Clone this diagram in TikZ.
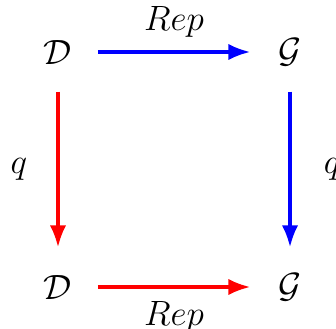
\documentclass[tikz,border=0pt]{standalone}
\usepackage{amsmath,amssymb}
\usepackage{xcolor}
\usepackage{tikz}
\usetikzlibrary{arrows.meta,positioning}

\begin{document}
\begin{tikzpicture}[
  obj/.style={inner sep=0pt,minimum width=0.94cm,minimum height=0.94cm,font=\large},
  arr/.style={-{Latex[length=7.5pt,width=5.6pt]},line width=1.1pt},
  lbl/.style={font=\large,inner sep=2pt}
]
\useasboundingbox (0,0) rectangle (4.032,3.936);

% Objects
\node[obj] (dtop) at (0.696,3.312) {$\mathcal{D}$};
\node[obj] (gtop) at (3.48,3.312) {$\mathcal{G}$};
\node[obj] (dbot) at (0.696,0.492) {$\mathcal{D}$};
\node[obj] (gbot) at (3.48,0.492) {$\mathcal{G}$};

% Arrows
\draw[arr,blue] (dtop) -- node[lbl,above=2.5pt,black] {$Rep$} (gtop);
\draw[arr,red] (dtop) -- node[lbl,left=8pt,black] {$q$} (dbot);
\draw[arr,blue] (gtop) -- node[lbl,right=9pt,black] {$q$} (gbot);
\draw[arr,red] (dbot) -- node[lbl,below=2.5pt,black] {$Rep$} (gbot);

\end{tikzpicture}
\end{document}
